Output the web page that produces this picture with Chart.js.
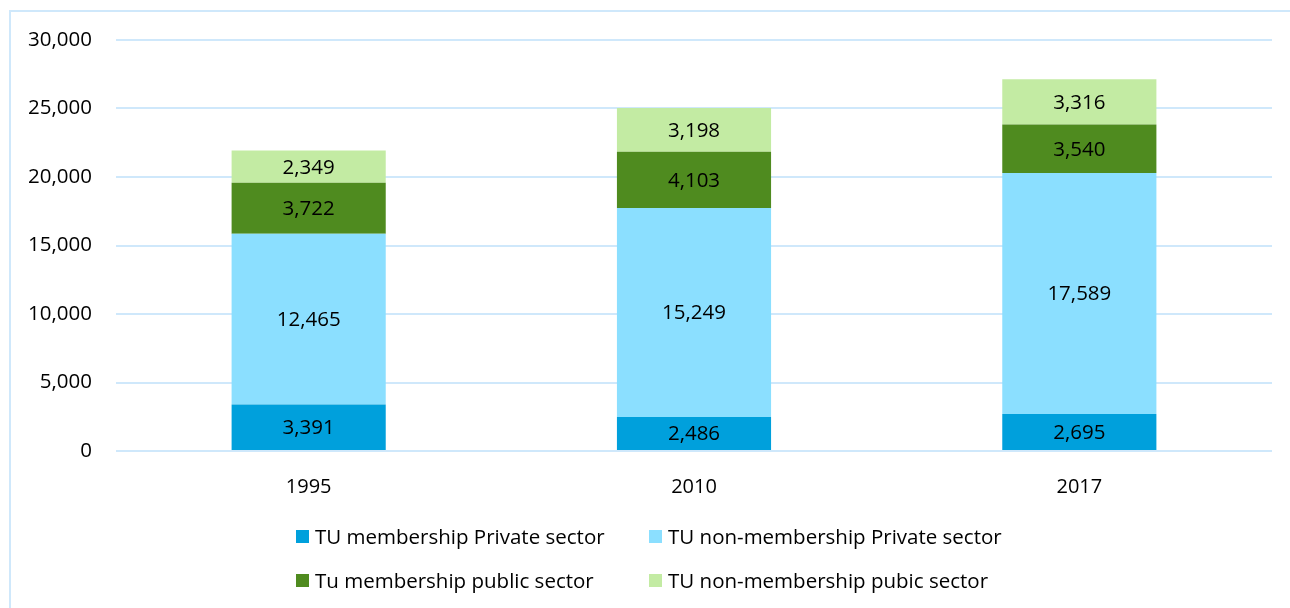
<!DOCTYPE html>
<html>
<head>
<meta charset="utf-8">
<script src="https://cdn.jsdelivr.net/npm/chart.js@4/dist/chart.umd.min.js"></script>
<style>
  html, body { margin: 0; padding: 0; background: #fff; }
  body { width: 1290px; height: 608px; position: relative; overflow: hidden; font-family: "Open Sans", "Noto Sans", sans-serif; }
  .rule { position: absolute; background: #cfe8fb; }
  #wrap { position: absolute; left: 0; top: 0; width: 1290px; height: 608px; }
  .legend { position: absolute; font-size: 20.5px; line-height: 26px; color: #000; display: flex; align-items: center; white-space: nowrap; }
  .legend span.box { display: inline-block; width: 13px; height: 13px; margin-right: 6px; }
</style>
</head>
<body>
<div class="rule" style="left:9px; top:10px; width:1281px; height:2px;"></div>
<div class="rule" style="left:9px; top:10px; width:2px; height:598px;"></div>
<div id="wrap"><canvas id="chart" width="1290" height="608"></canvas></div>
<div id="legend"></div>
<script>
const years = ['1995', '2010', '2017'];
const seriesNames = [
    'TU membership Private sector',
    'TU non-membership Private sector',
    'Tu membership public sector',
    'TU non-membership pubic sector'
];
const memberPrivate = [3391, 2486, 2695];
const nonMemberPrivate = [12465, 15249, 17589];
const memberPublic = [3722, 4103, 3540];
const nonMemberPublic = [2349, 3198, 3316];
const yTicks = [0, 5000, 10000, 15000, 20000, 25000, 30000];

const colors = ['#00a0dc', '#8bdfff', '#4f8b1f', '#c3eba3'];
const seriesValues = [memberPrivate, nonMemberPrivate, memberPublic, nonMemberPublic];

const FONT = '"Open Sans", "Noto Sans", sans-serif';
const fmt = v => v.toLocaleString('en-US');

// draws the value in the middle of each stacked segment
const segmentLabels = {
    id: 'segmentLabels',
    afterDatasetsDraw(chart) {
        const ctx = chart.ctx;
        ctx.save();
        ctx.font = '20.5px ' + FONT;
        ctx.fillStyle = '#000';
        ctx.textAlign = 'center';
        ctx.textBaseline = 'middle';
        chart.data.datasets.forEach((ds, i) => {
            chart.getDatasetMeta(i).data.forEach((bar, j) => {
                const p = bar.getProps(['x', 'y', 'base'], true);
                ctx.fillText(fmt(ds.data[j]), p.x, (p.y + p.base) / 2 + 1);
            });
        });
        ctx.restore();
    }
};

new Chart(document.getElementById('chart'), {
    type: 'bar',
    data: {
        labels: years,
        datasets: seriesNames.map((name, i) => ({
            label: name,
            data: seriesValues[i],
            backgroundColor: colors[i],
            borderWidth: 0,
            categoryPercentage: 1,
            barPercentage: 0.4
        }))
    },
    options: {
        responsive: false,
        animation: false,
        layout: { padding: { left: 0, right: 18, top: 40, bottom: 112 } },
        plugins: {
            legend: { display: false },
            tooltip: { enabled: false }
        },
        scales: {
            x: {
                stacked: true,
                grid: { display: false },
                border: { display: false },
                ticks: { color: '#000', font: { size: 20, family: FONT }, padding: 16 },
                afterFit(axis) { axis.height = 45; }
            },
            y: {
                stacked: true,
                min: 0,
                max: 30000,
                afterBuildTicks(axis) { axis.ticks = yTicks.map(v => ({ value: v })); },
                grid: { color: '#cfe8fb', lineWidth: 2, drawTicks: false },
                border: { display: false },
                ticks: {
                    color: '#000',
                    font: { size: 20.5, family: FONT },
                    padding: 24,
                    callback: v => fmt(v)
                },
                afterFit(axis) { axis.width = 116; }
            }
        }
    },
    plugins: [segmentLabels]
});

// legend laid out in two rows like the original
const legendPos = [[296, 536], [649, 536], [296, 580], [649, 580]];
const legendEl = document.getElementById('legend');
seriesNames.forEach((name, i) => {
    const d = document.createElement('div');
    d.className = 'legend';
    d.style.left = legendPos[i][0] + 'px';
    d.style.top = (legendPos[i][1] - 13) + 'px';
    d.innerHTML = '<span class="box" style="background:' + colors[i] + '"></span>' + name;
    legendEl.appendChild(d);
});
</script>
</body>
</html>
